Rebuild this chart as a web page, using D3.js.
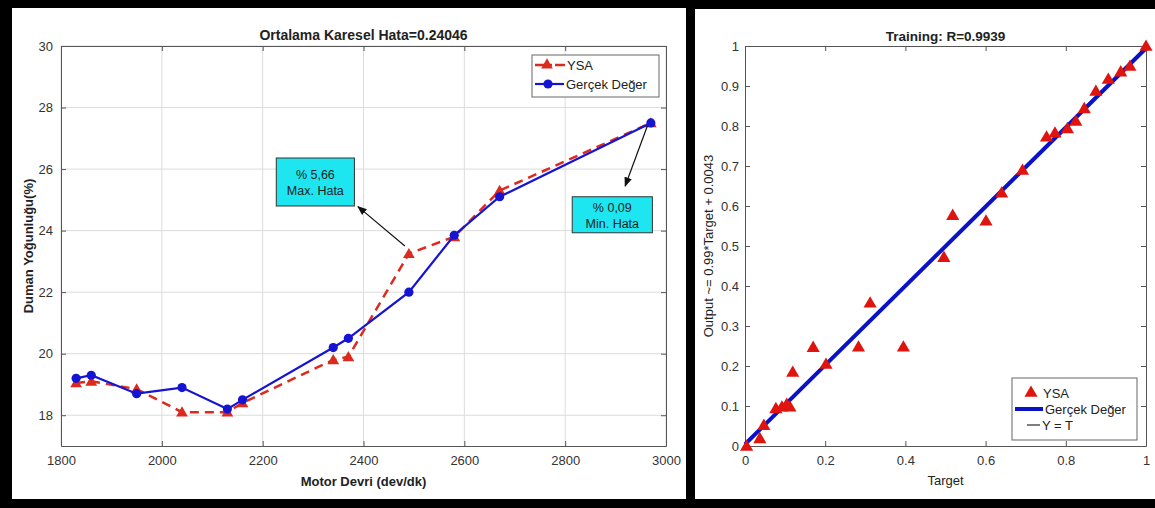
<!DOCTYPE html>
<html>
<head>
<meta charset="utf-8">
<script src="https://cdn.jsdelivr.net/npm/d3@7"></script>
<style>
  body { margin: 0; background: #000; }
  svg { display: block; font-family: "Liberation Sans", Arial, sans-serif; }
</style>
</head>
<body>
<div id="chart"></div>
<script>
// left chart data: motor speed vs smoke density
var rpm      = [1830, 1860, 1950, 2040, 2130, 2160, 2340, 2370, 2490, 2580, 2670, 2970];
var ysa      = [19.05, 19.1, 18.85, 18.1, 18.1, 18.4, 19.8, 19.9, 23.25, 23.8, 25.3, 27.5];
var gercek   = [19.2, 19.3, 18.7, 18.9, 18.2, 18.5, 20.2, 20.5, 22.0, 23.85, 25.1, 27.5];
var rpmTicks = [1800, 2000, 2200, 2400, 2600, 2800, 3000];
var densTicks = [18, 20, 22, 24, 26, 28, 30];

// right chart data: regression target vs output
var target = [0.004, 0.037, 0.047, 0.077, 0.092, 0.104, 0.112, 0.119, 0.170, 0.202, 0.283, 0.312, 0.395,
              0.496, 0.518, 0.601, 0.640, 0.692, 0.752, 0.773, 0.804, 0.825, 0.846, 0.875, 0.906, 0.937, 0.960, 1.0];
var output = [0.0, 0.019, 0.052, 0.094, 0.098, 0.105, 0.098, 0.185, 0.247, 0.205, 0.248, 0.358, 0.248,
              0.472, 0.577, 0.563, 0.633, 0.690, 0.773, 0.783, 0.794, 0.8125, 0.844, 0.8875, 0.9175, 0.936, 0.950, 1.0];
var fitSlope = 0.99, fitIntercept = 0.0043;
var xTicksR = [0, 0.2, 0.4, 0.6, 0.8, 1];
var yTicksR = [0, 0.1, 0.2, 0.3, 0.4, 0.5, 0.6, 0.7, 0.8, 0.9, 1];

var W = 1155, H = 508;
var svg = d3.select("#chart").append("svg").attr("width", W).attr("height", H);
svg.append("rect").attr("width", W).attr("height", H).attr("fill", "#000");

// white panels
svg.append("rect").attr("x", 12).attr("y", 8).attr("width", 674).attr("height", 491).attr("fill", "#fff");
svg.append("rect").attr("x", 695).attr("y", 9).attr("width", 460).attr("height", 490).attr("fill", "#fff");

var axisCol = "#555", tickCol = "#333";

function styleAxis(g) {
    g.selectAll("path.domain").attr("stroke", axisCol);
    g.selectAll(".tick line").attr("stroke", axisCol);
    g.selectAll(".tick text").attr("fill", tickCol).style("font-size", "13px");
}

// ---------- left chart ----------
var L = { left: 61, right: 666, top: 46, bottom: 446 };
var x = d3.scaleLinear().domain([1800, 3000]).range([L.left, L.right]);
var y = d3.scaleLinear().domain([17, 30]).range([L.bottom, L.top]);

var gl = svg.append("g");
// grid
gl.selectAll("line.gx").data(rpmTicks).enter().append("line")
    .attr("x1", d => x(d)).attr("x2", d => x(d)).attr("y1", L.top).attr("y2", L.bottom)
    .attr("stroke", "#dcdcdc");
gl.selectAll("line.gy").data(densTicks).enter().append("line")
    .attr("x1", L.left).attr("x2", L.right).attr("y1", d => y(d)).attr("y2", d => y(d))
    .attr("stroke", "#dcdcdc");

gl.append("g").attr("transform", "translate(0," + L.bottom + ")")
    .call(d3.axisBottom(x).tickValues(rpmTicks).tickFormat(d3.format("d")).tickSize(-5).tickPadding(10).tickSizeOuter(0))
    .call(styleAxis);
gl.append("g").attr("transform", "translate(0," + L.top + ")")
    .call(d3.axisTop(x).tickValues(rpmTicks).tickSize(-5).tickFormat("").tickSizeOuter(0))
    .call(styleAxis);
gl.append("g").attr("transform", "translate(" + L.left + ",0)")
    .call(d3.axisLeft(y).tickValues(densTicks).tickSize(-5).tickPadding(8).tickSizeOuter(0))
    .call(styleAxis);
gl.append("g").attr("transform", "translate(" + L.right + ",0)")
    .call(d3.axisRight(y).tickValues(densTicks).tickSize(-5).tickFormat("").tickSizeOuter(0))
    .call(styleAxis);

var ptsY = rpm.map((r, i) => [r, ysa[i]]);
var ptsG = rpm.map((r, i) => [r, gercek[i]]);
var line = d3.line().x(d => x(d[0])).y(d => y(d[1]));

var red = "#dc2a1e", blue = "#1414d2";
gl.append("path").datum(ptsY).attr("d", line).attr("fill", "none")
    .attr("stroke", red).attr("stroke-width", 2.5).attr("stroke-dasharray", "9,6");
gl.selectAll("path.tri").data(ptsY).enter().append("path")
    .attr("d", d3.symbol().type(d3.symbolTriangle).size(60))
    .attr("transform", d => "translate(" + x(d[0]) + "," + (y(d[1]) + 1) + ")")
    .attr("fill", red);
gl.append("path").datum(ptsG).attr("d", line).attr("fill", "none")
    .attr("stroke", blue).attr("stroke-width", 2.2);
gl.selectAll("circle.g").data(ptsG).enter().append("circle")
    .attr("cx", d => x(d[0])).attr("cy", d => y(d[1])).attr("r", 4.6).attr("fill", blue);

// titles and labels
gl.append("text").attr("x", (L.left + L.right) / 2).attr("y", 40).attr("text-anchor", "middle")
    .style("font-size", "14px").style("font-weight", "bold").attr("fill", "#222")
    .text("Ortalama Karesel Hata=0.24046");
gl.append("text").attr("x", (L.left + L.right) / 2).attr("y", 486).attr("text-anchor", "middle")
    .style("font-size", "13px").style("font-weight", "bold").attr("fill", "#222")
    .text("Motor Devri (dev/dk)");
gl.append("text").attr("transform", "translate(33," + (L.top + L.bottom) / 2 + ") rotate(-90)")
    .attr("text-anchor", "middle").style("font-size", "13px").style("font-weight", "bold").attr("fill", "#222")
    .text("Duman Yoğunluğu(%)");

// legend
var lg = gl.append("g");
lg.append("rect").attr("x", 532).attr("y", 55).attr("width", 127).attr("height", 42)
    .attr("fill", "#fff").attr("stroke", "#666");
lg.append("line").attr("x1", 535).attr("x2", 565).attr("y1", 65).attr("y2", 65)
    .attr("stroke", red).attr("stroke-width", 2.5).attr("stroke-dasharray", "10,3,4,3");
lg.append("path").attr("d", d3.symbol().type(d3.symbolTriangle).size(60)())
    .attr("transform", "translate(547,65)").attr("fill", red);
lg.append("text").attr("x", 567).attr("y", 70).style("font-size", "13px").attr("fill", "#222").text("YSA");
lg.append("line").attr("x1", 535).attr("x2", 564).attr("y1", 84).attr("y2", 84)
    .attr("stroke", blue).attr("stroke-width", 2.2);
lg.append("circle").attr("cx", 548).attr("cy", 84).attr("r", 4.6).attr("fill", blue);
lg.append("text").attr("x", 566).attr("y", 89).style("font-size", "13px").attr("fill", "#222").text("Gerçek Değer");

// annotations
svg.append("defs").append("marker").attr("id", "ah").attr("viewBox", "0 0 10 10")
    .attr("refX", 9).attr("refY", 5).attr("markerWidth", 8).attr("markerHeight", 8)
    .attr("orient", "auto").append("path").attr("d", "M0,1 L10,5 L0,9 z").attr("fill", "#111");

var notes = [
    { box: [2227, 26.36, 2382, 24.8], from: [2482, 23.5], to: [2389, 24.78], l1: "% 5,66", l2: "Max. Hata" },
    { box: [2814, 25.1, 2973, 23.93], from: [2963, 27.4], to: [2919, 25.45], l1: "% 0,09", l2: "Min. Hata" }
];
notes.forEach(function (n) {
    gl.append("line").attr("x1", x(n.from[0])).attr("y1", y(n.from[1]))
        .attr("x2", x(n.to[0])).attr("y2", y(n.to[1]))
        .attr("stroke", "#111").attr("stroke-width", 1.2).attr("marker-end", "url(#ah)");
    var bx = x(n.box[0]), by = y(n.box[1]), bw = x(n.box[2]) - bx, bh = y(n.box[3]) - by;
    gl.append("rect").attr("x", bx).attr("y", by).attr("width", bw).attr("height", bh)
        .attr("fill", "#1ee6f0").attr("stroke", "#333");
    gl.append("text").attr("x", bx + bw / 2).attr("y", by + bh / 2 - 3).attr("text-anchor", "middle")
        .style("font-size", "12.5px").attr("fill", "#222").text(n.l1);
    gl.append("text").attr("x", bx + bw / 2).attr("y", by + bh / 2 + 13).attr("text-anchor", "middle")
        .style("font-size", "12.5px").attr("fill", "#222").text(n.l2);
});

// ---------- right chart ----------
var R = { left: 745, right: 1146, top: 46, bottom: 446 };
var xr = d3.scaleLinear().domain([0, 1]).range([R.left, R.right]);
var yr = d3.scaleLinear().domain([0, 1]).range([R.bottom, R.top]);
var gr = svg.append("g");

gr.append("g").attr("transform", "translate(0," + R.bottom + ")")
    .call(d3.axisBottom(xr).tickValues(xTicksR).tickFormat(d3.format("~g")).tickSize(-5).tickPadding(10).tickSizeOuter(0))
    .call(styleAxis);
gr.append("g").attr("transform", "translate(0," + R.top + ")")
    .call(d3.axisTop(xr).tickValues(xTicksR).tickSize(-5).tickFormat("").tickSizeOuter(0))
    .call(styleAxis);
gr.append("g").attr("transform", "translate(" + R.left + ",0)")
    .call(d3.axisLeft(yr).tickValues(yTicksR).tickFormat(d3.format("~g")).tickSize(-5).tickPadding(6).tickSizeOuter(0))
    .call(styleAxis);
gr.append("g").attr("transform", "translate(" + R.right + ",0)")
    .call(d3.axisRight(yr).tickValues(yTicksR).tickSize(-5).tickFormat("").tickSizeOuter(0))
    .call(styleAxis);

// Y = T reference and fit line
gr.append("line").attr("x1", xr(0)).attr("y1", yr(0)).attr("x2", xr(1)).attr("y2", yr(1))
    .attr("stroke", "#000").attr("stroke-width", 1);
gr.append("line").attr("x1", xr(0)).attr("y1", yr(fitIntercept))
    .attr("x2", xr(1)).attr("y2", yr(fitSlope + fitIntercept))
    .attr("stroke", "#0a12c8").attr("stroke-width", 4);

gr.selectAll("path.t").data(target).enter().append("path")
    .attr("d", d3.symbol().type(d3.symbolTriangle).size(75))
    .attr("transform", (d, i) => "translate(" + xr(d) + "," + (yr(output[i]) + 1) + ")")
    .attr("fill", "#e0140e");

gr.append("text").attr("x", (R.left + R.right) / 2).attr("y", 41).attr("text-anchor", "middle")
    .style("font-size", "13.5px").style("font-weight", "bold").attr("fill", "#222")
    .text("Training: R=0.9939");
gr.append("text").attr("x", (R.left + R.right) / 2).attr("y", 485).attr("text-anchor", "middle")
    .style("font-size", "13px").attr("fill", "#222").text("Target");
gr.append("text").attr("transform", "translate(713," + (R.top + R.bottom) / 2 + ") rotate(-90)")
    .attr("text-anchor", "middle").style("font-size", "13px").attr("fill", "#222")
    .text("Output ~= 0.99*Target + 0.0043");

// legend
var rl = gr.append("g");
rl.append("rect").attr("x", 1012).attr("y", 378).attr("width", 125).attr("height", 62)
    .attr("fill", "#fff").attr("stroke", "#666");
rl.append("path").attr("d", d3.symbol().type(d3.symbolTriangle).size(75)())
    .attr("transform", "translate(1031,393)").attr("fill", "#e0140e");
rl.append("text").attr("x", 1043).attr("y", 398).style("font-size", "13px").attr("fill", "#222").text("YSA");
rl.append("line").attr("x1", 1015).attr("x2", 1043).attr("y1", 409).attr("y2", 409)
    .attr("stroke", "#0a12c8").attr("stroke-width", 4);
rl.append("text").attr("x", 1045).attr("y", 414).style("font-size", "13px").attr("fill", "#222").text("Gerçek Değer");
rl.append("line").attr("x1", 1027).attr("x2", 1040).attr("y1", 425).attr("y2", 425)
    .attr("stroke", "#000").attr("stroke-width", 1);
rl.append("text").attr("x", 1042).attr("y", 430).style("font-size", "13px").attr("fill", "#222").text("Y = T");
</script>
</body>
</html>
